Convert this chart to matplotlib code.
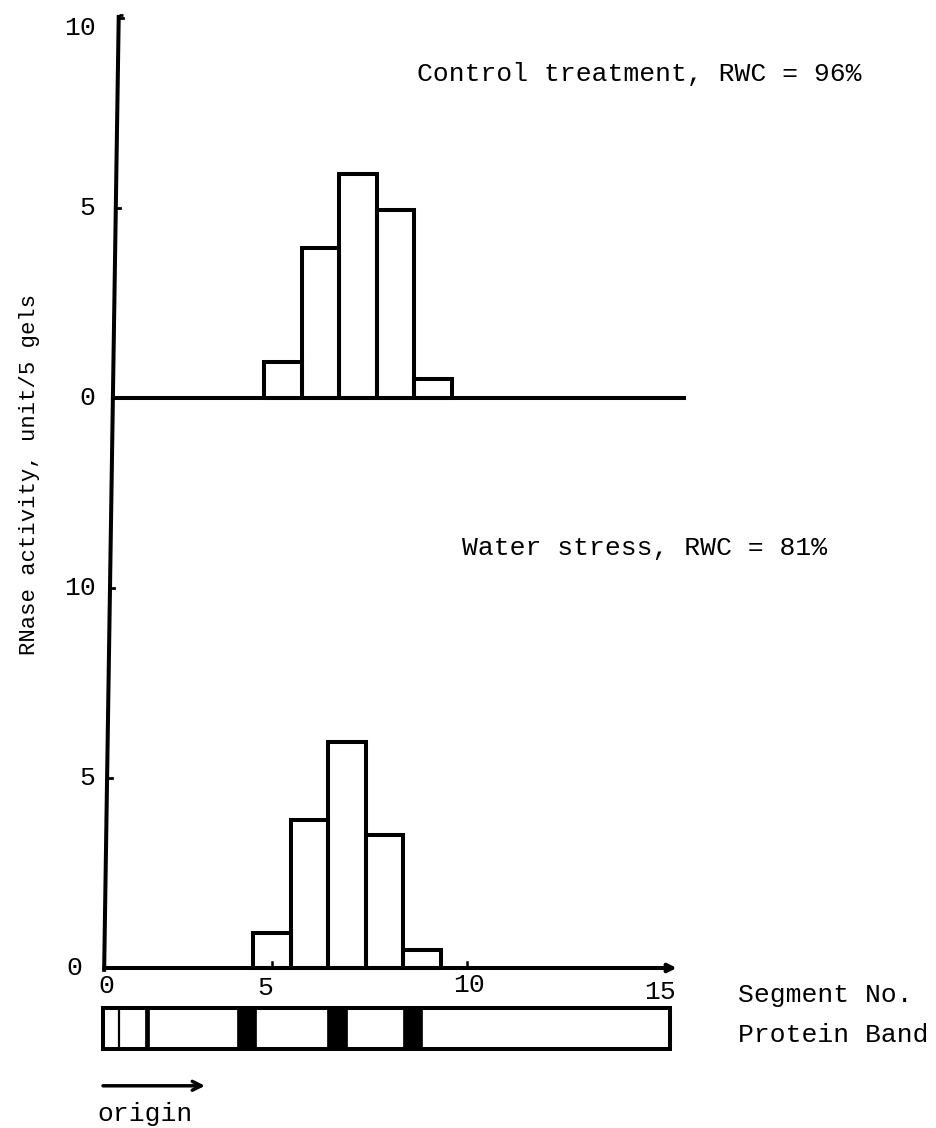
import matplotlib
matplotlib.use('Agg')
import matplotlib.pyplot as plt
from matplotlib.patches import Rectangle

# ---------------- data ----------------
segments = [5, 6, 7, 8, 9]                      # segment numbers carrying RNase activity
control_activity = [0.95, 3.95, 5.9, 4.95, 0.5]  # Control treatment, RWC = 96%
stress_activity = [0.92, 3.9, 5.95, 3.5, 0.47]   # Water stress, RWC = 81%
y_tick_values = [0, 5, 10]
x_tick_labels = ['0', '5', '10', '15']
light_band_pos = [0.43, 1.17]                   # thin protein band lines
light_band_width = [1.6, 3.4]
dark_band_start = [3.57, 5.97, 8.0]             # dark protein bands
dark_band_end = [4.08, 6.51, 8.51]
control_label = 'Control treatment, RWC = 96%'
stress_label = 'Water stress, RWC = 81%'
y_axis_label = 'RNase activity, unit/5 gels'

# ---------------- layout (pixel mapping) ----------------
W, H = 937, 1128
X0_PX, PX_PER_X = 103, 37.5
Y0_PX, PX_PER_Y = 968, 38.0
TOP_OFFSET = 15.0     # baseline of upper panel in shared units
TOP_SHIFT = 0.3       # upper panel drawn slightly to the right
LW = 2.9
FONT = 'Liberation Mono'
FS = 19

fig = plt.figure(figsize=(W / 100, H / 100), dpi=100)
ax = fig.add_axes([0, 0, 1, 1])
ax.set_xlim(-X0_PX / PX_PER_X, (W - X0_PX) / PX_PER_X)
ax.set_ylim((Y0_PX - H) / PX_PER_Y, Y0_PX / PX_PER_Y)
ax.axis('off')

# left (shared) vertical axis, slightly tilted as hand drawn
ax_x_bot, ax_y_bot = 0.03, -0.1
ax_x_top, ax_y_top = 0.42, 25.08
ax.plot([ax_x_bot, ax_x_top], [ax_y_bot, ax_y_top], color='black', lw=LW,
        solid_capstyle='butt')
ax.plot([ax_x_top, ax_x_top + 0.1], [ax_y_top, ax_y_top], color='black', lw=2,
        solid_capstyle='butt')


def axis_x_at(y):
    return ax_x_bot + (ax_x_top - ax_x_bot) * (y - ax_y_bot) / (ax_y_top - ax_y_bot)


# lower panel x axis with arrow
ax.annotate('', xy=(15.3, 0), xytext=(axis_x_at(0), 0),
            arrowprops=dict(arrowstyle='-|>', lw=LW, color='black',
                            mutation_scale=12, shrinkA=0, shrinkB=0))
# upper panel baseline
ax.plot([axis_x_at(TOP_OFFSET), 15.5], [TOP_OFFSET, TOP_OFFSET], color='black', lw=LW)

# bars
ax.bar([s - 1 + TOP_SHIFT for s in segments], control_activity, width=1.0,
       bottom=TOP_OFFSET, align='edge', fill=False, edgecolor='black', linewidth=LW)
ax.bar([s - 1 for s in segments], stress_activity, width=1.0,
       bottom=0, align='edge', fill=False, edgecolor='black', linewidth=LW)

# y tick labels and small tick marks
label_y_adjust = {(TOP_OFFSET, 10): -0.26}
for base in (0, TOP_OFFSET):
    for v in y_tick_values:
        y = base + v
        yl = y + label_y_adjust.get((base, v), 0.0)
        xr = -0.55 if (v == 0 and base == 0) else -0.2
        ax.text(xr, yl, str(v), ha='right', va='center', fontsize=FS, family=FONT)
        if v > 0:
            xa = axis_x_at(y)
            ax.plot([xa, xa + 0.12], [y, y], color='black', lw=2)

# x tick labels (placed as in the drawing)
x_label_pos = [0.08, 4.32, 9.75, 14.85]
x_label_y = [-0.47, -0.53, -0.45, -0.62]
for xp, yp, lab in zip(x_label_pos, x_label_y, x_tick_labels):
    ax.text(xp, yp, lab, ha='center', va='center', fontsize=FS, family=FONT)
for xp in (4.5, 9.7):
    ax.plot([xp, xp], [0, 0.15], color='black', lw=1.8)

# panel annotations
ax.text(8.37, 23.53, control_label, ha='left', va='center', fontsize=FS, family=FONT)
ax.text(9.57, 11.05, stress_label, ha='left', va='center', fontsize=FS, family=FONT)
ax.text(-1.95, 13.0, y_axis_label, ha='center', va='center', rotation=90,
        fontsize=16, family=FONT)

# protein band strip
strip_y0, strip_y1 = -2.13, -1.05
ax.add_patch(Rectangle((0, strip_y0), 15.12, strip_y1 - strip_y0, fill=False,
                       edgecolor='black', lw=LW))
for xp, w in zip(light_band_pos, light_band_width):
    ax.plot([xp, xp], [strip_y0, strip_y1], color='black', lw=w,
            solid_capstyle='butt')
for x0, x1 in zip(dark_band_start, dark_band_end):
    ax.add_patch(Rectangle((x0, strip_y0), x1 - x0, strip_y1 - strip_y0,
                           facecolor='black', edgecolor='black', lw=0.5))

ax.text(16.93, -0.71, 'Segment No.', ha='left', va='center', fontsize=FS, family=FONT)
ax.text(16.93, -1.76, 'Protein Band', ha='left', va='center', fontsize=FS, family=FONT)

# origin arrow
ax.annotate('', xy=(2.72, -3.1), xytext=(0, -3.1),
            arrowprops=dict(arrowstyle='->', lw=2.5, color='black',
                            mutation_scale=16, shrinkA=0, shrinkB=0))
ax.text(-0.15, -3.85, 'origin', ha='left', va='center', fontsize=FS, family=FONT)

fig.savefig('out.png', dpi=100, facecolor='white')
